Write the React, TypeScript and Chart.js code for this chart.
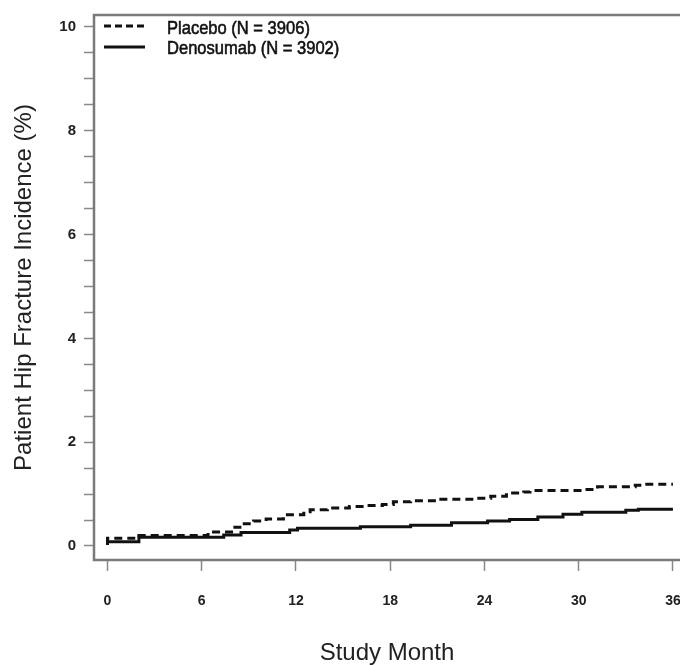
import React, { useEffect, useRef } from "react";
import { Chart, registerables } from "chart.js";

Chart.register(...registerables);

// ---- Data ----
const placeboLabel = "Placebo (N = 3906)";
const denosumabLabel = "Denosumab (N = 3902)";

const placeboMonths = [0, 2.0, 6.4, 8.0, 8.6, 9.3, 10.1, 11.2, 12.5, 12.9, 14.0, 15.4, 16.5, 17.5, 18.2, 19.3, 21.0, 23.3, 24.4, 25.4, 26.5, 26.9, 30.4, 31.2, 33.6, 34.2, 35.6, 36];
const placeboValues = [0.03, 0.15, 0.2, 0.27, 0.36, 0.43, 0.48, 0.52, 0.6, 0.66, 0.7, 0.73, 0.76, 0.78, 0.8, 0.85, 0.87, 0.9, 0.92, 0.96, 1.02, 1.04, 1.07, 1.09, 1.14, 1.17, 1.19, 1.19];

const denosumabMonths = [0, 2.0, 7.4, 8.5, 11.6, 12.1, 16.1, 19.3, 21.9, 24.2, 25.6, 27.4, 29.0, 30.2, 33.0, 33.8, 34.4, 36];
const denosumabValues = [0.02, 0.08, 0.17, 0.21, 0.26, 0.31, 0.34, 0.37, 0.4, 0.45, 0.48, 0.51, 0.56, 0.61, 0.65, 0.69, 0.71, 0.71];

const xTicks = [0, 6, 12, 18, 24, 30, 36];
const yTicks = [0, 0.5, 1, 1.5, 2, 2.5, 3, 3.5, 4, 4.5, 5, 5.5, 6, 6.5, 7, 7.5, 8, 8.5, 9, 9.5, 10];
const yLabeled = [0, 2, 4, 6, 8, 10];

const xTitle = "Study Month";
const yTitle = "Patient Hip Fracture Incidence (%)";

const FONT = '"Liberation Sans", Arial, sans-serif';

const boxPlugin = {
  id: "boxFrame",
  afterDatasetsDraw(chart: any) {
    const { ctx, chartArea } = chart;
    const { left, top, right, bottom } = chartArea;
    ctx.save();
    ctx.strokeStyle = "#7a7a7a";
    ctx.lineWidth = 2.5;
    ctx.beginPath();
    ctx.moveTo(right + 2, top);
    ctx.lineTo(left, top);
    ctx.lineTo(left, bottom);
    ctx.lineTo(right + 2, bottom);
    ctx.stroke();
    ctx.restore();
  },
};

const legendPlugin = {
  id: "customLegend",
  afterDraw(chart: any) {
    const { ctx, chartArea } = chart;
    const x0 = chartArea.left + 10;
    const x1 = chartArea.left + 51;
    const tx = chartArea.left + 73;
    const rows = [
      { label: chart.data.datasets[0].label, dash: [7, 4], lineY: chartArea.top + 11, textY: chartArea.top + 14 },
      { label: chart.data.datasets[1].label, dash: [], lineY: chartArea.top + 32, textY: chartArea.top + 34 },
    ];
    ctx.save();
    rows.forEach((r) => {
      ctx.beginPath();
      ctx.setLineDash(r.dash);
      ctx.strokeStyle = "#111";
      ctx.lineWidth = 3;
      ctx.moveTo(x0, r.lineY);
      ctx.lineTo(x1, r.lineY);
      ctx.stroke();
      ctx.setLineDash([]);
      ctx.save();
      ctx.translate(tx, r.textY);
      ctx.scale(0.87, 1);
      ctx.font = `19px ${FONT}`;
      ctx.fillStyle = "#111";
      ctx.strokeStyle = "#111";
      ctx.lineWidth = 0.6;
      ctx.textBaseline = "middle";
      ctx.textAlign = "left";
      ctx.fillText(r.label, 0, 0);
      ctx.strokeText(r.label, 0, 0);
      ctx.restore();
    });
    ctx.restore();
  },
};

export default function App() {
  const canvasRef = useRef<HTMLCanvasElement | null>(null);

  useEffect(() => {
    const canvas = canvasRef.current;
    if (!canvas) return;
    const chart = new Chart(canvas, {
      type: "line",
      data: {
        datasets: [
          {
            label: placeboLabel,
            data: placeboMonths.map((m, i) => ({ x: m, y: placeboValues[i] })),
            stepped: "after",
            borderColor: "#111",
            borderWidth: 3,
            borderDash: [8, 5],
            pointRadius: 0,
            fill: false,
          },
          {
            label: denosumabLabel,
            data: denosumabMonths.map((m, i) => ({ x: m, y: denosumabValues[i] })),
            stepped: "after",
            borderColor: "#111",
            borderWidth: 3,
            pointRadius: 0,
            fill: false,
          },
        ],
      },
      options: {
        responsive: false,
        animation: false,
        devicePixelRatio: 1,
        layout: { padding: { top: 15, right: 0, left: 0, bottom: 0 } },
        plugins: {
          legend: { display: false },
          tooltip: { enabled: false },
        },
        scales: {
          x: {
            type: "linear",
            min: -0.86,
            max: 36.45,
            afterBuildTicks: (scale: any) => {
              scale.ticks = xTicks.map((v) => ({ value: v }));
            },
            afterFit: (scale: any) => {
              scale.height = 105;
              scale.paddingLeft = 0;
              scale.paddingRight = 0;
            },
            grid: {
              drawOnChartArea: false,
              drawTicks: true,
              tickLength: 11,
              tickColor: "#888",
              tickWidth: 1.5,
            },
            border: { display: false },
            ticks: {
              autoSkip: false,
              maxRotation: 0,
              padding: 22,
              color: "#222",
              font: { family: FONT, size: 14, weight: "bold" },
              callback: (v: any) => String(v),
            },
            title: {
              display: true,
              text: xTitle,
              color: "#222",
              font: { family: FONT, size: 24 },
              padding: { top: 0, bottom: -3 },
            },
          },
          y: {
            type: "linear",
            min: -0.27,
            max: 10.23,
            afterBuildTicks: (scale: any) => {
              scale.ticks = yTicks.map((v) => ({ value: v }));
            },
            afterFit: (scale: any) => {
              scale.width = 94;
              scale.paddingTop = 0;
              scale.paddingBottom = 0;
            },
            grid: {
              drawOnChartArea: false,
              drawTicks: true,
              tickLength: 10,
              tickColor: "#888",
              tickWidth: 1.5,
            },
            border: { display: false },
            ticks: {
              autoSkip: false,
              padding: 8,
              color: "#222",
              font: { family: FONT, size: 15, weight: "bold" },
              callback: (v: any) => (yLabeled.includes(Number(v)) ? String(v) : ""),
            },
            title: {
              display: true,
              text: yTitle,
              color: "#222",
              font: { family: FONT, size: 24 },
              padding: { top: 10, bottom: 0 },
            },
          },
        },
      },
      plugins: [boxPlugin, legendPlugin],
    } as any);
    return () => chart.destroy();
  }, []);

  return (
    <div style={{ position: "fixed", left: 0, top: 0, width: 680, height: 665, background: "#fff", overflow: "hidden" }}>
      <canvas ref={canvasRef} width={680} height={665} style={{ display: "block", width: 680, height: 665 }} />
    </div>
  );
}
